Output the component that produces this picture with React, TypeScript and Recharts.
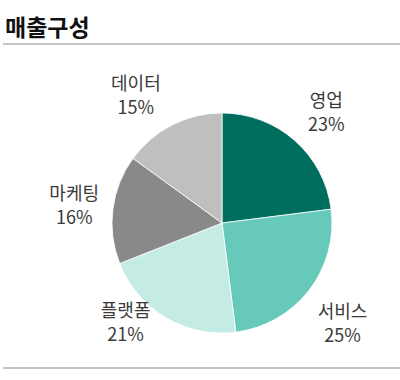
import React from "react";
import { PieChart, Pie, Cell } from "recharts";

const segments = ["영업", "서비스", "플랫폼", "마케팅", "데이터"];
const shares = [23, 25, 21, 16, 15];

const COLORS = ["#006e5e", "#66c9ba", "#c4ebe4", "#898989", "#bfbfbf"];
// small hand nudges so labels sit where the original report put them
const LABEL_NUDGE = [
  [5, 1],
  [2, 7],
  [-20, -31],
  [1, 0],
  [-18, 5],
];

const FONT = "'Noto Sans CJK KR', 'Noto Sans', sans-serif";
const RADIAN = Math.PI / 180;

const data = segments.map((name, i) => ({ name, value: shares[i] }));

const renderLabel = (props: any) => {
  const { cx, cy, midAngle, index, name, value } = props;
  const r = 150;
  const [nx, ny] = LABEL_NUDGE[index] || [0, 0];
  const x = cx + r * Math.cos(-midAngle * RADIAN) + nx;
  const y = cy + r * Math.sin(-midAngle * RADIAN) + ny;
  return (
    <text
      x={x}
      y={y}
      textAnchor="middle"
      fill="#3a3a3a"
      fontFamily={FONT}
      fontSize={18}
    >
      <tspan x={x} y={y - 12} dominantBaseline="central">
        {name}
      </tspan>
      <tspan x={x} y={y + 12} dominantBaseline="central">
        {value}%
      </tspan>
    </text>
  );
};

const App: React.FC = () => {
  return (
    <div
      style={{
        position: "absolute",
        left: 0,
        top: 0,
        width: 400,
        height: 380,
        background: "#fff",
        overflow: "hidden",
      }}
    >
      <div
        style={{
          position: "absolute",
          left: 5,
          top: 11,
          fontFamily: FONT,
          fontWeight: 700,
          fontSize: 23,
          color: "#111",
          lineHeight: "30px",
        }}
      >
        매출구성
      </div>
      <div
        style={{
          position: "absolute",
          left: 3,
          right: 0,
          top: 43,
          height: 2,
          background: "#c4c4c4",
        }}
      />
      <div style={{ position: "absolute", left: 0, top: 0 }}>
        <PieChart width={400} height={380} margin={{ top: 0, right: 0, bottom: 0, left: 0 }}>
          <Pie
            data={data}
            dataKey="value"
            nameKey="name"
            cx={222}
            cy={223}
            outerRadius={110}
            startAngle={90}
            endAngle={-270}
            stroke="#ffffff"
            strokeWidth={0.8}
            label={renderLabel}
            labelLine={false}
            isAnimationActive={false}
          >
            {data.map((entry, index) => (
              <Cell key={`cell-${index}`} fill={COLORS[index % COLORS.length]} />
            ))}
          </Pie>
        </PieChart>
      </div>
      <div
        style={{
          position: "absolute",
          left: 3,
          right: 0,
          top: 367,
          height: 2,
          background: "#c4c4c4",
        }}
      />
    </div>
  );
};

export default App;
